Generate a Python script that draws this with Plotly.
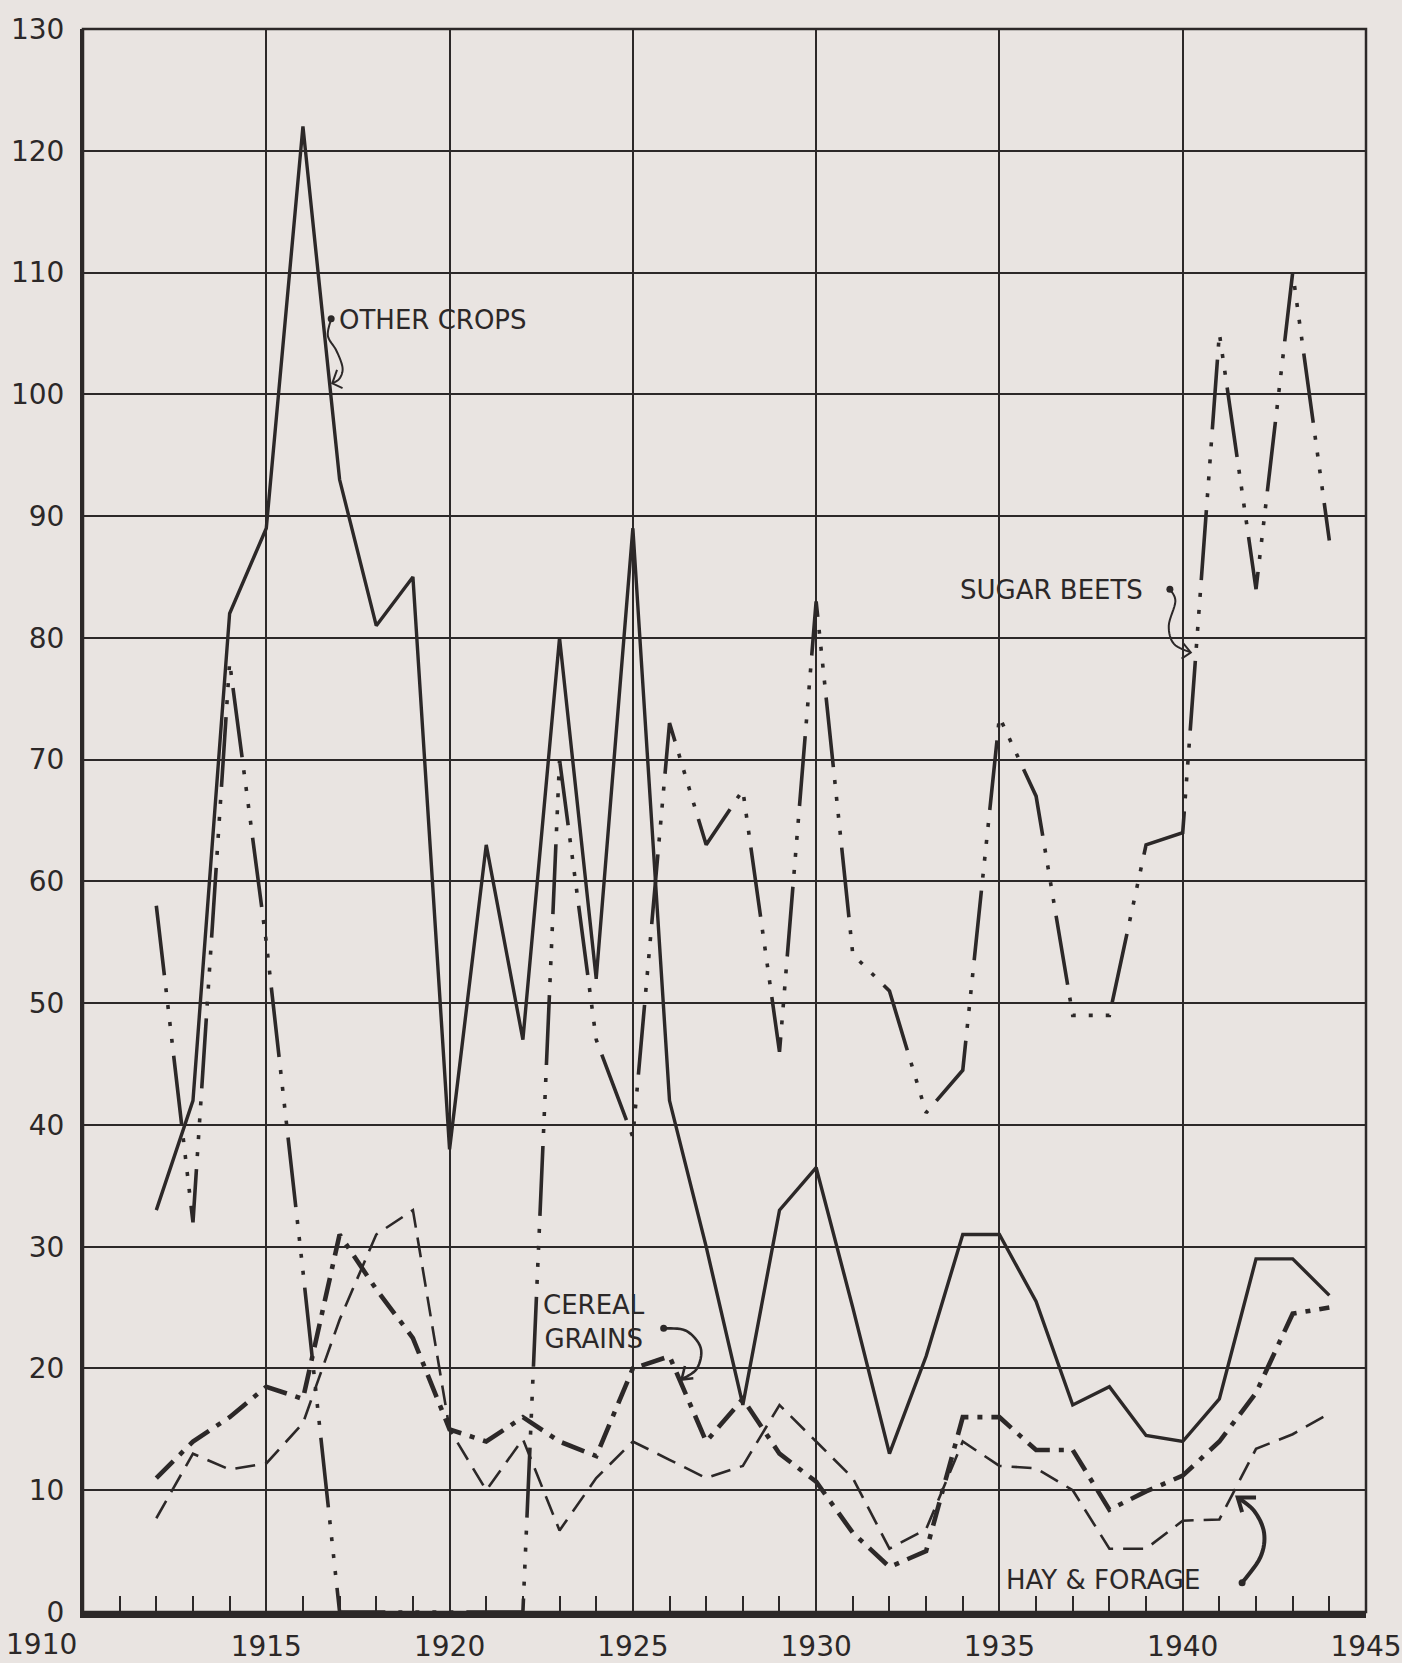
import plotly.graph_objects as go

# ---------------- data ----------------
years = list(range(1912, 1945))

other_crops = [33, 42, 82, 89, 122, 93, 81, 85, 38, 63, 47, 80, 52, 89, 42, 30, 17,
               33, 36.5, 25, 13, 21, 31, 31, 25.5, 17, 18.5, 14.5, 14, 17.5, 29, 29, 26]

sugar_beets = [58, 32, 78, 55, 28, 0, 0, 0, 0, 0, 0, 70, 47, 39, 73, 63, 67.5,
               46, 83, 54, 51, 41, 44.5, 73.5, 67, 49, 49, 63, 64, 105, 84, 110, 88]

cereal_grains = [11, 14, 16, 18.5, 17.5, 31, 26.5, 22.5, 15, 14, 16, 14, 12.8, 20, 21, 14, 17.5,
                 13, 10.7, 6.5, 3.7, 5, 16, 16, 13.3, 13.3, 8.4, 9.9, 11.2, 14, 18, 24.5, 25]

hay_forage = [7.7, 13, 11.7, 12.2, 15.5, 24, 31, 33, 15, 10, 14.2, 6.7, 11, 14, 12.5, 11, 12,
              17, 14, 11, 5.2, 6.8, 14, 12, 11.8, 10, 5.2, 5.2, 7.5, 7.6, 13.4, 14.6, 16.3]

x_tick_vals = [1915, 1920, 1925, 1930, 1935, 1940, 1945]
x_tick_text = ["1915", "1920", "1925", "1930", "1935", "1940", "1945"]
first_year_label = "1910"
y_tick_vals = list(range(0, 131, 10))
y_tick_text = [str(v) for v in y_tick_vals]

series_labels = ["OTHER CROPS", "SUGAR BEETS", "CEREAL<br>GRAINS", "HAY &amp; FORAGE"]

# ---------------- style ----------------
ink = "#2c2828"
bg = "#e9e4e1"
font_family = "DejaVu Sans"

fig = go.Figure()
fig.add_trace(go.Scatter(x=years, y=other_crops, mode="lines", name="Other crops",
                         line=dict(color=ink, width=3.4)))
fig.add_trace(go.Scatter(x=years, y=sugar_beets, mode="lines", name="Sugar beets",
                         line=dict(color=ink, width=3.6,
                                   dash="70px,13px,4px,13px,4px,13px,4px,13px,4px,13px")))
fig.add_trace(go.Scatter(x=years, y=cereal_grains, mode="lines", name="Cereal grains",
                         line=dict(color=ink, width=4.6, dash="24px,9px,5px,9px")))
fig.add_trace(go.Scatter(x=years, y=hay_forage, mode="lines", name="Hay & forage",
                         line=dict(color=ink, width=2.6, dash="20px,10px")))

fig.update_layout(
    width=1402, height=1663,
    margin=dict(l=83, r=36, t=29, b=51, autoexpand=False),
    paper_bgcolor=bg, plot_bgcolor=bg,
    showlegend=False,
    font=dict(family=font_family, color=ink),
)

fig.update_xaxes(
    range=[1910, 1945], tickmode="array", tickvals=x_tick_vals, ticktext=x_tick_text,
    showgrid=True, gridcolor=ink, gridwidth=1.6, zeroline=False,
    ticks="", showline=True, linecolor=ink, linewidth=6,
    minor=dict(tick0=1910, dtick=1, ticks="inside", ticklen=16, tickwidth=2,
               tickcolor=ink, showgrid=False),
    tickfont=dict(size=28, color=ink, family=font_family),
    ticklabelstandoff=4,
)
fig.update_yaxes(
    range=[0, 130], tickmode="array", tickvals=y_tick_vals, ticktext=y_tick_text,
    showgrid=True, gridcolor=ink, gridwidth=1.6, zeroline=False,
    ticks="", showline=True, linecolor=ink, linewidth=3,
    tickfont=dict(size=28, color=ink, family=font_family),
    ticklabelstandoff=10,
)

# border
shapes = [dict(type="rect", xref="paper", yref="paper", x0=0, x1=1, y0=0, y1=1,
               line=dict(color=ink, width=2.5), layer="above")]


def catmull(pts, n=8):
    out = []
    P = [pts[0]] + pts + [pts[-1]]
    for i in range(1, len(P) - 2):
        p0, p1, p2, p3 = P[i - 1], P[i], P[i + 1], P[i + 2]
        for k in range(n):
            t = k / n
            t2, t3 = t * t, t * t * t
            x = 0.5 * ((2 * p1[0]) + (-p0[0] + p2[0]) * t + (2 * p0[0] - 5 * p1[0] + 4 * p2[0] - p3[0]) * t2
                       + (-p0[0] + 3 * p1[0] - 3 * p2[0] + p3[0]) * t3)
            y = 0.5 * ((2 * p1[1]) + (-p0[1] + p2[1]) * t + (2 * p0[1] - 5 * p1[1] + 4 * p2[1] - p3[1]) * t2
                       + (-p0[1] + 3 * p1[1] - 3 * p2[1] + p3[1]) * t3)
            out.append((x, y))
    out.append(pts[-1])
    return "M " + " L ".join(f"{x:.4f},{y:.4f}" for x, y in out)


def leader(pts, barbs, width):
    s = [dict(type="path", xref="x", yref="y", path=catmull(pts),
              line=dict(color=ink, width=width), layer="above")]
    tip = pts[-1]
    s.append(dict(type="path", xref="x", yref="y",
                  path=f"M {barbs[0][0]},{barbs[0][1]} L {tip[0]},{tip[1]} L {barbs[1][0]},{barbs[1][1]}",
                  line=dict(color=ink, width=width), layer="above"))
    s.append(dict(type="circle", xref="x", yref="y", xsizemode="pixel", ysizemode="pixel",
                  xanchor=pts[0][0], yanchor=pts[0][1], x0=-3.5, x1=3.5, y0=-3.5, y1=3.5,
                  fillcolor=ink, line=dict(color=ink, width=0), layer="above"))
    return s


# other crops leader
shapes += leader([(1916.77, 106.2), (1916.68, 104.8), (1916.91, 103.6), (1917.08, 102.2),
                  (1917.0, 101.3), (1916.80, 100.9)],
                 [(1916.93, 102.0), (1917.08, 100.5)], 2)
# sugar beets leader
shapes += leader([(1939.65, 84.0), (1939.80, 83.0), (1939.62, 81.0), (1939.76, 79.5),
                  (1940.22, 78.8)],
                 [(1940.0, 79.6), (1939.97, 78.3)], 2)
# cereal grains leader
shapes += leader([(1925.84, 23.3), (1926.45, 23.1), (1926.85, 21.7), (1926.75, 20.0),
                  (1926.33, 19.1)],
                 [(1926.42, 20.2), (1926.65, 19.2)], 2.6)
# hay & forage leader
shapes += leader([(1941.62, 2.4), (1942.12, 4.5), (1942.22, 6.5), (1941.95, 8.3),
                  (1941.50, 9.4)],
                 [(1941.62, 8.2), (1942.0, 9.4)], 4)

fig.update_layout(shapes=shapes)

label_font = dict(size=26, color=ink, family=font_family)
annotations = [
    dict(x=1916.93, y=106.1, text=series_labels[0], xanchor="left", yanchor="middle"),
    dict(x=1933.87, y=83.9, text=series_labels[1], xanchor="left", yanchor="middle"),
    dict(x=1923.94, y=23.8, text=series_labels[2], xanchor="center", yanchor="middle", align="center"),
    dict(x=1935.12, y=2.6, text=series_labels[3], xanchor="left", yanchor="middle"),
]
for a in annotations:
    a.update(xref="x", yref="y", showarrow=False, font=label_font)

annotations.append(dict(x=1910, y=0, xref="x", yref="y", text=first_year_label, showarrow=False,
                        xanchor="center", yanchor="top", xshift=-42, yshift=-14,
                        font=dict(size=28, color=ink, family=font_family)))
fig.update_layout(annotations=annotations)

fig.write_html("out.html",
               config={"displayModeBar": False},
               post_script="document.body.style.margin='0';document.body.style.background='" + bg + "';")
